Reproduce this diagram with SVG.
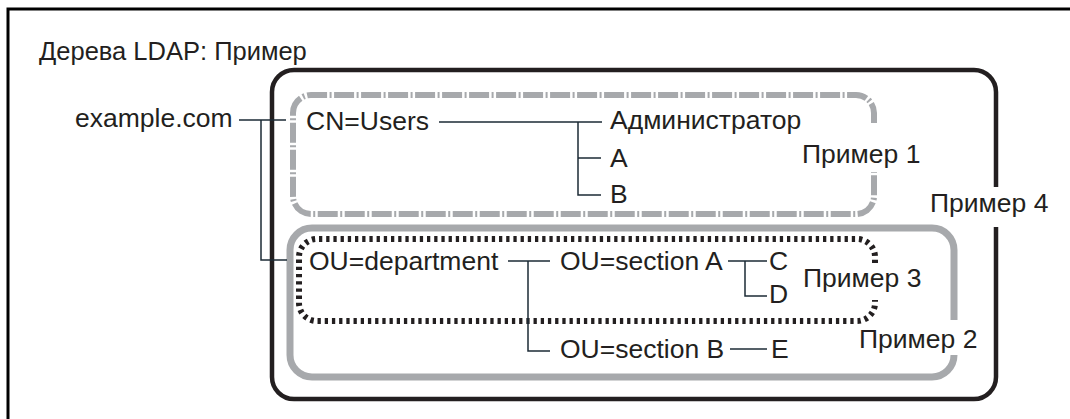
<svg xmlns="http://www.w3.org/2000/svg" width="1070" height="419" viewBox="0 0 1070 419">
<style>
text{font-family:"Liberation Sans",Arial,sans-serif;font-size:26.5px;fill:#231f20}
.title{font-size:25.5px}
.frame{fill:none;stroke:#000;stroke-width:3}
.b4{fill:none;stroke:#231f20;stroke-width:4.5}
.b1{fill:none;stroke:#a7a9ac;stroke-width:6;stroke-dasharray:20 2.5 2 2.5}
.b2{fill:none;stroke:#a7a9ac;stroke-width:7}
.b3{fill:none;stroke:#231f20;stroke-width:6;stroke-dasharray:3.3 3.9}
.ln{fill:none;stroke:#1c2b36;stroke-width:1.5}
</style>
<rect class="frame" x="8" y="9" width="1080" height="430"/>
<text class="title" x="39" y="60">Дерева LDAP: Пример</text>
<g id="box4"><path class="b4" d="M996 187V92A22 22 0 0 0 974 70H294A22 22 0 0 0 272 92V377A22 22 0 0 0 294 399H974A22 22 0 0 0 996 377V227"/><text x="930" y="212">Пример 4</text></g>
<g id="box1"><path class="b1" d="M874 123V113A18 18 0 0 0 856 95H311A18 18 0 0 0 293 113V196A18 18 0 0 0 311 214H856A18 18 0 0 0 874 196V172"/><text x="802" y="163">Пример 1</text></g>
<g id="box2"><path class="b2" d="M954 320V250A22 22 0 0 0 932 228H312A22 22 0 0 0 290 250V355A22 22 0 0 0 312 377H932A22 22 0 0 0 954 355"/><text x="859" y="348">Пример 2</text></g>
<g id="box3"><path class="b3" d="M875 263V257A18 18 0 0 0 857 239H317A18 18 0 0 0 299 257V303A18 18 0 0 0 317 321H857A18 18 0 0 0 875 303V300"/><text x="803" y="287">Пример 3</text></g>
<g id="connectors">
<path class="ln" d="M239 120H286M261 120V260H287"/>
<path class="ln" d="M439 122H602M578 122V195H601M578 158H601"/>
<path class="ln" d="M508 261H550M528 261V351H550"/>
<path class="ln" d="M728 261H767M745 261V296H767"/>
<path class="ln" d="M730 349H767"/>
</g>
<g id="n-example"><text x="75" y="127">example.com</text></g>
<g id="n-users"><text x="306" y="130">CN=Users</text></g>
<g id="n-admin"><text x="610" y="129">Администратор</text></g>
<g id="n-a"><text x="610" y="167">A</text></g>
<g id="n-b"><text x="610" y="203">B</text></g>
<g id="n-dept"><text x="309" y="270">OU=department</text></g>
<g id="n-secA"><text x="560" y="270">OU=section A</text></g>
<g id="n-c"><text x="769" y="270">C</text></g>
<g id="n-d"><text x="769" y="303">D</text></g>
<g id="n-secB"><text x="560" y="358">OU=section B</text></g>
<g id="n-e"><text x="771" y="358">E</text></g>
</svg>
